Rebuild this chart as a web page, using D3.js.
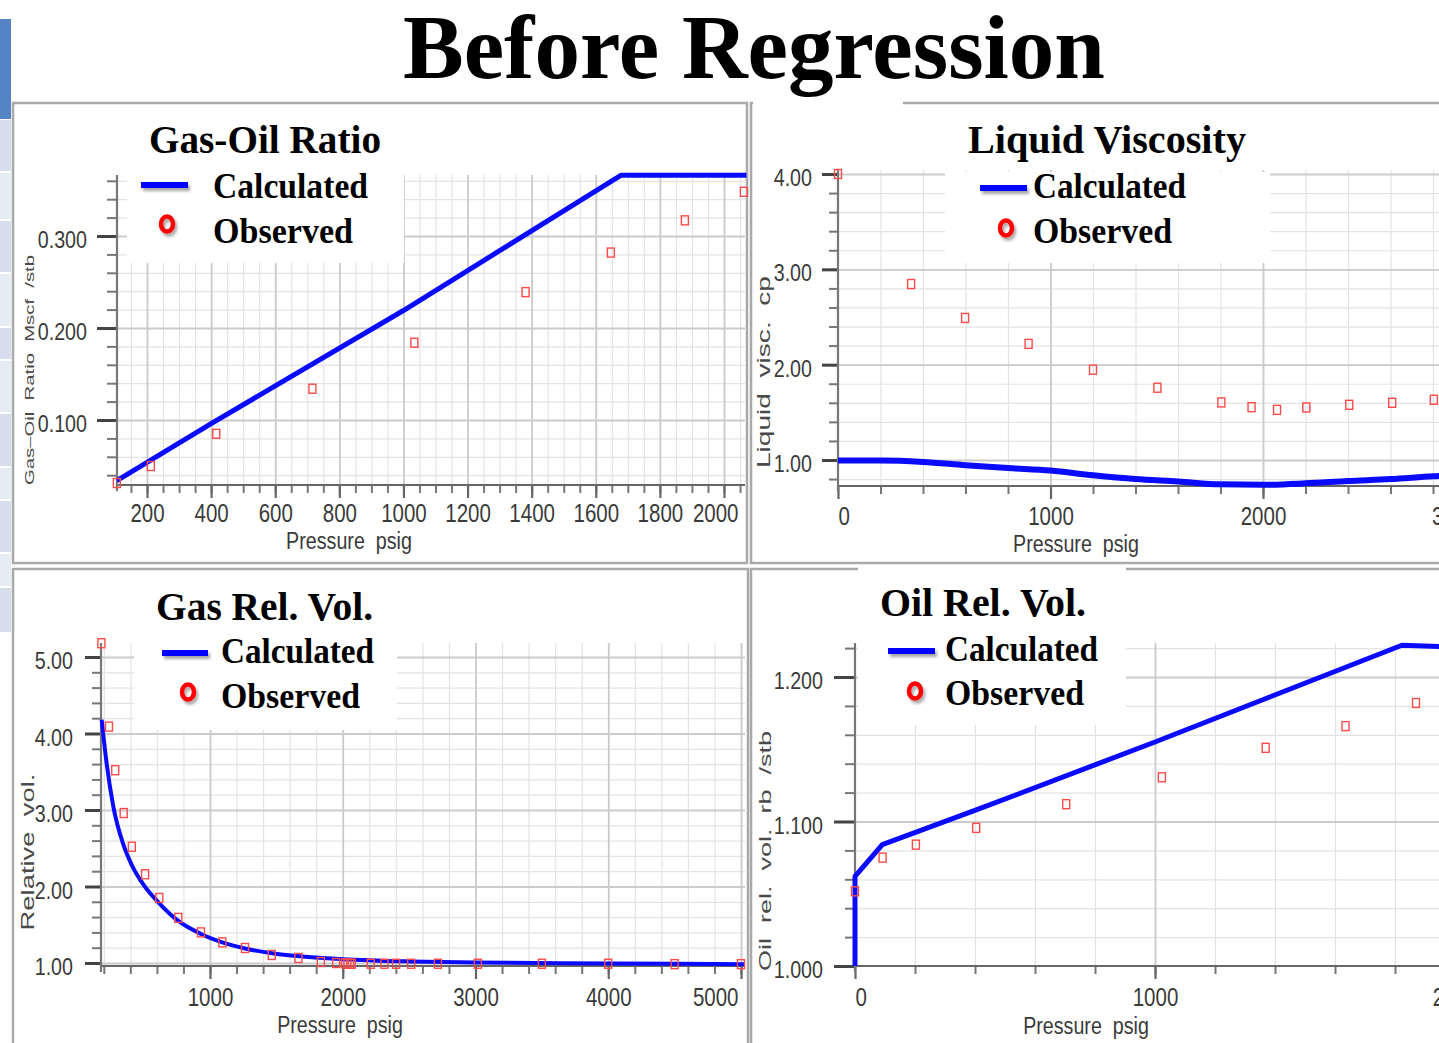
<!DOCTYPE html>
<html>
<head>
<meta charset="utf-8">
<script src="https://cdn.jsdelivr.net/npm/d3@7"></script>
<style>
  body { margin: 0; background: #fff; overflow: hidden; }
  svg { display: block; }
</style>
</head>
<body>
<svg id="chart" width="1439" height="1043"></svg>
<script>
// ---- data ----
const gorObsPressure = [106, 212, 416, 716, 1034, 1381, 1647, 1878, 2062];
const gorObsValue = [0.0315, 0.050, 0.085, 0.134, 0.184, 0.239, 0.282, 0.317, 0.348];
const gorCalcPressure = [106, 400, 1000, 1678, 2070];
const gorCalcValue = [0.034, 0.096, 0.219, 0.366, 0.366];

const viscObsPressure = [0, 344, 598, 897, 1200, 1503, 1804, 1946, 2066, 2204, 2406, 2608, 2804];
const viscObsValue = [4.00, 2.846, 2.49, 2.218, 1.947, 1.758, 1.604, 1.554, 1.526, 1.551, 1.579, 1.60, 1.632];
const viscCalcPressure = [0, 200, 400, 600, 800, 1000, 1200, 1400, 1600, 1800, 2000, 2200, 2400, 2600, 2800, 3000];
const viscCalcValue = [0.995, 0.995, 0.98, 0.945, 0.915, 0.89, 0.84, 0.80, 0.775, 0.745, 0.74, 0.755, 0.78, 0.80, 0.83, 0.85];

const gasObsPressure = [182, 239, 286, 350, 411, 511, 618, 761, 932, 1093, 1264, 1465, 1666, 1835, 1950,
  2017, 2035, 2055, 2068, 2211, 2314, 2402, 2515, 2717, 3018, 3500, 4000, 4500, 5000];
const gasObsValue = [5.18, 4.09, 3.52, 2.96, 2.52, 2.16, 1.85, 1.59, 1.40, 1.27, 1.196, 1.105, 1.066, 1.013, 1.00,
  0.995, 0.99, 0.99, 0.99, 0.99, 0.99, 0.99, 0.99, 0.99, 0.99, 0.99, 0.99, 0.985, 0.985];
const gasCalcPressure = [184, 222, 271, 347, 411, 500, 618, 761, 932, 1093, 1264, 1454, 1657, 2000, 2500, 3000, 4000, 5030];
const gasCalcValue = [4.18, 3.60, 3.05, 2.55, 2.28, 2.02, 1.78, 1.55, 1.38, 1.27, 1.19, 1.13, 1.09, 1.05, 1.02, 1.005, 0.995, 0.985];

const oilObsPressure = [0, 92, 203, 404, 704, 1023, 1369, 1635, 1870];
const oilObsValue = [1.0517, 1.075, 1.084, 1.0956, 1.112, 1.1306, 1.151, 1.166, 1.182];
const oilCalcPressure = [0, 0, 91, 404, 1000, 1823, 1950, 2200];
const oilCalcValue = [1.000, 1.062, 1.084, 1.108, 1.155, 1.222, 1.221, 1.221];

const legendLabels = ['Calculated', 'Observed'];

const svg = d3.select('#chart');
const serif = '"Liberation Serif", "Times New Roman", serif';
const sans = '"Liberation Sans", Arial, sans-serif';
const squeeze = 0.82;

// soft shadow used on legend symbols
const defs = svg.append('defs');
defs.append('filter').attr('id', 'shadow')
  .attr('filterUnits', 'userSpaceOnUse').attr('x', 0).attr('y', 0).attr('width', 1439).attr('height', 1043)
  .append('feDropShadow').attr('dx', 2).attr('dy', 3).attr('stdDeviation', 1.6)
  .attr('flood-color', '#000').attr('flood-opacity', 0.35);
defs.append('filter').attr('id', 'soft')
  .append('feGaussianBlur').attr('stdDeviation', 0.4);

// ---- slide decoration ----
svg.append('rect').attr('x', 0).attr('y', 19).attr('width', 11).attr('height', 100).attr('fill', '#5584c4');
[119, 172, 220, 273, 327, 360, 413, 467, 500, 553, 587].forEach((y0, i, arr) => {
  const y1 = arr[i + 1] || 633;
  svg.append('rect').attr('x', 0).attr('y', y0 + 1).attr('width', 11).attr('height', y1 - y0 - 2)
    .attr('fill', i % 2 ? '#e6ebf4' : '#d6deed');
});

svg.append('text')
  .attr('x', 403).attr('y', 78)
  .attr('font-family', serif).attr('font-weight', 'bold').attr('font-size', 90)
  .attr('textLength', 702).attr('lengthAdjust', 'spacingAndGlyphs')
  .text('Before Regression');

// panel frames
const frames = [[13, 103, 734, 460], [751, 103, 700, 460], [13, 569, 735, 490], [751, 569, 700, 490]];
frames.forEach(f => {
  svg.append('rect').attr('x', f[0]).attr('y', f[1]).attr('width', f[2]).attr('height', f[3])
    .attr('fill', '#fff').attr('stroke', '#a9a9a9').attr('stroke-width', 2.5);
});

function stepTicks(lo, hi, step) {
  const a = Math.ceil(lo / step - 1e-6), b = Math.floor(hi / step + 1e-6);
  return d3.range(a, b + 1).map(i => +(i * step).toFixed(6));
}

const fmt2 = d3.format('.2f'), fmt3 = d3.format('.3f');

const panels = [
  {
    title: 'Gas-Oil Ratio', yTitle: 'Gas\u2013Oil  Ratio  Mscf  /stb',
    calcP: gorCalcPressure, calcV: gorCalcValue, obsP: gorObsPressure, obsV: gorObsValue, curve: d3.curveLinear,
    xCal: [200, 2000], xPix: [147, 724], xBox: [117, 745],
    yCal: [0.1, 0.3], yPix: [420, 236], yBox: [485, 175],
    xMinor: 50, xMajor: 200, yMinor: 0.02, yMajor: 0.1, yFmt: fmt3,
    yTickMajor: 20, yTickMinor: 10, yLabelGap: 30, xLabelBase: 37,
    xTitle: [349, 549], yT: { x: 34, y: 370, len: 230, size: 12 }, lineW: 5,
    box: [127, 172, 277, 91],
    head: { x: 149, y: 153, len: 232 }, leg: { x: 213, y: [198, 243], lens: [155, 140] },
    sym: { x1: 141, x2: 188, y: 185, cx: 167, cy: 224 }
  },
  {
    title: 'Liquid Viscosity', yTitle: 'Liquid  visc.  cp',
    calcP: viscCalcPressure, calcV: viscCalcValue, obsP: viscObsPressure, obsV: viscObsValue, curve: d3.curveMonotoneX,
    xCal: [0, 2000], xPix: [838, 1263], xBox: [838, 1484],
    yCal: [1, 4], yPix: [460, 174], yBox: [486, 170],
    xMinor: 200, xMajor: 1000, yMinor: 0.2, yMajor: 1, yFmt: fmt2,
    yTickMajor: 16, yTickMinor: 9, yLabelGap: 26, xLabelBase: 39,
    xTitle: [1076, 552], yT: { x: 770, y: 372, len: 192, size: 19 }, lineW: 6,
    box: [945, 172, 325, 91],
    head: { x: 968, y: 153, len: 278 }, leg: { x: 1033, y: [198, 243], lens: [153, 139] },
    sym: { x1: 980, x2: 1027, y: 188, cx: 1006, cy: 228 }
  },
  {
    title: 'Gas Rel. Vol.', yTitle: 'Relative  vol.',
    calcP: gasCalcPressure, calcV: gasCalcValue, obsP: gasObsPressure, obsV: gasObsValue, curve: d3.curveMonotoneX,
    xCal: [1000, 5000], xPix: [210, 741], xBox: [101, 745],
    yCal: [1, 5], yPix: [963, 657], yBox: [966, 643],
    xMinor: 200, xMajor: 1000, yMinor: 0.2, yMajor: 1, yFmt: fmt2,
    yTickMajor: 16, yTickMinor: 9, yLabelGap: 28, xLabelBase: 40,
    xTitle: [340, 1033], yT: { x: 34, y: 852, len: 157, size: 18 }, lineW: 4,
    box: [134, 632, 263, 98],
    head: { x: 156, y: 620, len: 217 }, leg: { x: 221, y: [663, 708], lens: [153, 139] },
    sym: { x1: 162, x2: 208, y: 653, cx: 188, cy: 692 }
  },
  {
    title: 'Oil Rel. Vol.', yTitle: 'Oil  rel.  vol.  rb  /stb',
    calcP: oilCalcPressure, calcV: oilCalcValue, obsP: oilObsPressure, obsV: oilObsValue, curve: d3.curveLinear,
    xCal: [0, 1000], xPix: [855, 1155], xBox: [855, 1486],
    yCal: [1.0, 1.2], yPix: [966, 677], yBox: [966, 643],
    xMinor: 200, xMajor: 1000, yMinor: 0.02, yMajor: 0.1, yFmt: fmt3,
    yTickMajor: 21, yTickMinor: 10, yLabelGap: 32, xLabelBase: 40,
    xTitle: [1086, 1034], yT: { x: 771, y: 851, len: 240, size: 16 }, lineW: 5,
    box: [858, 567, 268, 158],
    head: { x: 880, y: 616, len: 206 }, leg: { x: 945, y: [661, 705], lens: [153, 139] },
    sym: { x1: 888, x2: 935, y: 651, cx: 915, cy: 691 }
  }
];

// hide piece of the top frame line, as on the slide
svg.append('rect').attr('x', 753).attr('y', 99).attr('width', 150).attr('height', 8).attr('fill', '#fff');

panels.forEach(drawPanel);

function drawPanel(p) {
  const x = d3.scaleLinear().domain(p.xCal).range(p.xPix);
  const y = d3.scaleLinear().domain(p.yCal).range(p.yPix);
  const [left, right] = p.xBox;
  const [bottom, top] = p.yBox;
  const xLo = x.invert(left), xHi = x.invert(right);
  const yLo = y.invert(bottom), yHi = y.invert(top);

  const xMinor = stepTicks(xLo, xHi, p.xMinor).filter(v => x(v) > left + 1);
  const xMajor = stepTicks(xLo, xHi, p.xMajor);
  const yMinor = stepTicks(yLo, yHi, p.yMinor).filter(v => y(v) < bottom - 1);
  const yMajor = stepTicks(yLo, yHi, p.yMajor);

  const g = svg.append('g');

  // grid
  const grid = (axis, tr, vals, len, color, w) => {
    g.append('g').attr('transform', tr)
      .call(axis.tickValues(vals).tickSize(len).tickFormat(''))
      .call(s => s.select('.domain').remove())
      .selectAll('line').attr('stroke', color).attr('stroke-width', w);
  };
  grid(d3.axisBottom(x), `translate(0,${bottom})`, xMinor, -(bottom - top), '#e3e3e3', 1.2);
  grid(d3.axisLeft(y), `translate(${left},0)`, yMinor, -(right - left), '#e3e3e3', 1.2);
  grid(d3.axisBottom(x), `translate(0,${bottom})`, xMajor.filter(v => x(v) > left + 1), -(bottom - top), '#cbcbcb', 1.8);
  grid(d3.axisLeft(y), `translate(${left},0)`, yMajor.filter(v => y(v) < bottom - 1), -(right - left), '#cbcbcb', 1.8);

  // legend background covers the grid
  g.append('rect').attr('x', p.box[0]).attr('y', p.box[1]).attr('width', p.box[2]).attr('height', p.box[3])
    .attr('fill', '#fff');

  // x axis
  const xAxisG = g.append('g').attr('transform', `translate(0,${bottom})`);
  xAxisG.append('g')
    .call(d3.axisBottom(x).tickValues(xMinor).tickSize(8).tickFormat(''))
    .call(s => s.select('.domain').remove())
    .selectAll('line').attr('stroke', '#777').attr('stroke-width', 2);
  const xMaj = xAxisG.append('g')
    .call(d3.axisBottom(x).tickValues(xMajor).tickSize(13).tickFormat(d3.format('d')));
  xMaj.select('.domain').remove();
  xMaj.selectAll('line').attr('stroke', '#666').attr('stroke-width', 2.2);
  xMaj.selectAll('text')
    .attr('font-family', sans).attr('font-size', 25).attr('fill', '#3a3a3a')
    .attr('y', p.xLabelBase).attr('dy', 0)
    .each(function (d) {
      const w = this.getComputedTextLength() * squeeze;
      let cx = x(d);
      if (cx - w / 2 < left) cx = left + w / 2;
      if (cx + w / 2 > right - 7) cx = right - 7 - w / 2;
      d3.select(this).attr('transform', `translate(${cx - x(d)},0) scale(${squeeze},1)`);
    });
  g.append('line').attr('x1', left).attr('x2', right).attr('y1', bottom).attr('y2', bottom)
    .attr('stroke', '#666').attr('stroke-width', 2.2);

  // y axis
  const yAxisG = g.append('g').attr('transform', `translate(${left},0)`);
  yAxisG.append('g')
    .call(d3.axisLeft(y).tickValues(yMinor).tickSize(p.yTickMinor).tickFormat(''))
    .call(s => s.select('.domain').remove())
    .selectAll('line').attr('stroke', '#777').attr('stroke-width', 2);
  const yMaj = yAxisG.append('g')
    .call(d3.axisLeft(y).tickValues(yMajor).tickSize(p.yTickMajor).tickFormat(p.yFmt));
  yMaj.select('.domain').remove();
  yMaj.selectAll('line').attr('stroke', '#444').attr('stroke-width', 3);
  yMaj.selectAll('text')
    .attr('font-family', sans).attr('font-size', 24).attr('fill', '#3a3a3a')
    .attr('x', 0).attr('dy', '0.48em')
    .attr('transform', `translate(${-p.yLabelGap},0) scale(${squeeze},1)`);
  g.append('line').attr('x1', left).attr('x2', left).attr('y1', top).attr('y2', bottom + 6)
    .attr('stroke', '#777').attr('stroke-width', 2.2);

  // axis titles
  g.append('text')
    .attr('x', p.xTitle[0]).attr('y', p.xTitle[1]).attr('text-anchor', 'middle')
    .attr('font-family', sans).attr('font-size', 24).attr('fill', '#3a3a3a')
    .attr('transform', `translate(${p.xTitle[0]},0) scale(${squeeze},1) translate(${-p.xTitle[0]},0)`)
    .attr('xml:space', 'preserve')
    .text('Pressure  psig');
  g.append('text')
    .attr('transform', `translate(${p.yT.x},${p.yT.y}) rotate(-90)`)
    .attr('text-anchor', 'middle')
    .attr('font-family', sans).attr('font-size', p.yT.size).attr('fill', '#4a4a4a')
    .attr('textLength', p.yT.len).attr('lengthAdjust', 'spacingAndGlyphs')
    .attr('xml:space', 'preserve')
    .text(p.yTitle);

  // calculated line
  const clipId = 'clip' + Math.round(left);
  defs.append('clipPath').attr('id', clipId)
    .append('rect').attr('x', left - 3).attr('y', top - 12).attr('width', right - left + 6).attr('height', bottom - top + 14);
  const calc = p.calcP.map((v, i) => [v, p.calcV[i]]);
  g.append('path')
    .datum(calc)
    .attr('clip-path', `url(#${clipId})`)
    .attr('fill', 'none').attr('stroke', '#0a0aff').attr('stroke-width', p.lineW)
    .attr('stroke-linejoin', 'round')
    .attr('d', d3.line().x(d => x(d[0])).y(d => y(d[1])).curve(p.curve));

  // observed points
  const obs = p.obsP.map((v, i) => [v, p.obsV[i]]);
  g.append('g').attr('filter', 'url(#soft)')
    .selectAll('rect').data(obs).enter()
    .append('rect')
    .attr('x', d => x(d[0]) - 3.5).attr('y', d => y(d[1]) - 4.5)
    .attr('width', 7).attr('height', 9)
    .attr('fill', 'none').attr('stroke', '#ff4a4a').attr('stroke-width', 1.4);

  // title & legend
  g.append('text')
    .attr('x', p.head.x).attr('y', p.head.y)
    .attr('font-family', serif).attr('font-weight', 'bold').attr('font-size', 40)
    .attr('textLength', p.head.len).attr('lengthAdjust', 'spacingAndGlyphs')
    .text(p.title);
  g.selectAll('.leg').data(legendLabels).enter()
    .append('text')
    .attr('x', p.leg.x).attr('y', (d, i) => p.leg.y[i])
    .attr('font-family', serif).attr('font-weight', 'bold').attr('font-size', 35)
    .attr('textLength', (d, i) => p.leg.lens[i]).attr('lengthAdjust', 'spacingAndGlyphs')
    .text(d => d);
  g.append('rect')
    .attr('x', p.sym.x1).attr('y', p.sym.y - 3).attr('width', p.sym.x2 - p.sym.x1).attr('height', 6)
    .attr('fill', '#0000ff').attr('filter', 'url(#shadow)');
  g.append('ellipse')
    .attr('cx', p.sym.cx).attr('cy', p.sym.cy).attr('rx', 6).attr('ry', 7.5)
    .attr('fill', 'none').attr('stroke', '#ff0000').attr('stroke-width', 4.5).attr('filter', 'url(#shadow)');
}
</script>
</body>
</html>
